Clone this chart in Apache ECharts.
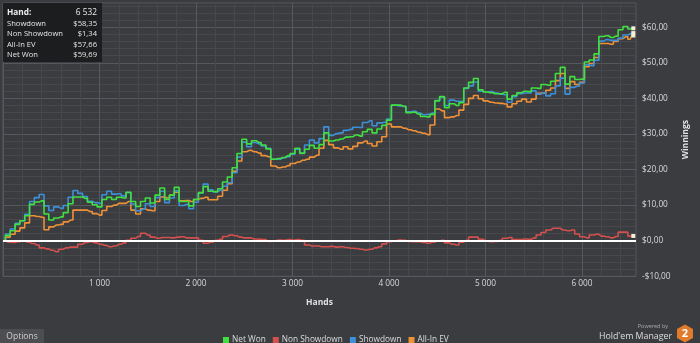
<!DOCTYPE html>
<html><head><meta charset="utf-8">
<script src="https://cdn.jsdelivr.net/npm/echarts@6/dist/echarts.min.js"></script>
<style>html,body{margin:0;padding:0;background:#3a3c40;}#c{width:700px;height:343px;}</style>
</head><body><div id="c"></div>
<script>
const hands = [0,50,100,150,200,250,300,350,400,450,500,550,600,650,700,750,800,850,900,950,
1000,1050,1100,1150,1200,1250,1300,1350,1400,1450,1500,1550,1600,1650,1700,1750,1800,1850,1900,1950,
2000,2050,2100,2150,2200,2250,2300,2350,2400,2450,2500,2550,2600,2650,2700,2750,2800,2850,2900,2950,
3000,3050,3100,3150,3200,3250,3300,3350,3400,3450,3500,3550,3600,3650,3700,3750,3800,3850,3900,3950,
4000,4050,4100,4150,4200,4250,4300,4350,4400,4450,4500,4550,4600,4650,4700,4750,4800,4850,4900,4950,
5000,5050,5100,5150,5200,5250,5300,5350,5400,5450,5500,5550,5600,5650,5700,5750,5800,5850,5900,5950,
6000,6050,6100,6150,6200,6250,6300,6350,6400,6450,6500,6532];

const netWon = [0,1.5,2.8,4.6,5.6,7.0,10.2,10.9,11.2,7.5,
5.8,6.4,6.7,7.9,10.4,12.3,12.3,11.9,10.8,10.1,
9.5,11.6,12.2,11.6,12.2,12.0,13.6,11.0,9.6,11.0,
12.0,10.6,12.8,14.8,11.6,12.8,15.0,11.0,11.0,9.8,
11.6,13.5,15.2,13.9,13.8,14.6,16.5,17.9,20.5,24.5,
28.5,27.2,28.1,27.6,26.9,25.8,22.9,23.1,23.4,23.9,
24.5,26.0,24.6,25.7,26.8,26.0,27.0,30.3,28.0,28.3,
28.6,29.1,29.2,29.7,29.4,30.6,31.3,30.3,31.4,32.4,
33.9,38.1,38.1,37.8,36.0,36.1,35.6,34.9,34.8,35.5,
39.3,40.5,37.4,38.5,38.0,38.8,42.9,44.5,45.6,42.4,
41.8,41.6,41.3,41.3,41.7,39.8,40.8,41.6,42.0,41.9,
42.9,42.8,43.9,43.7,44.8,47.0,48.7,44.0,46.1,45.3,
45.4,50.2,50.8,52.5,57.4,57.6,57.1,57.5,59.3,60.2,
59.5,59.69];

const nonShowdown = [0,-0.4,-0.5,-0.3,0,-0.4,-0.8,-1.2,-2.0,-2.3,
-2.7,-3.1,-2.4,-2.0,-1.8,-1.8,-1.0,-0.5,-0.3,-0.6,
-1.0,-1.3,-1.7,-1.5,-1.0,-0.6,0.1,0.7,1.2,2.1,
1.6,1.0,0.7,0.9,0.9,0.8,1.0,1.1,0.8,0.8,
0.8,0.1,-0.7,-0.4,0.1,0.4,1.2,1.6,1.4,1.0,
0.8,0.8,0.5,0.4,0.3,-0.2,0,0.2,0.1,0.3,
0.2,0.3,0.1,-1.2,-1.5,-1.5,-1.7,-1.7,-1.6,-1.8,
-1.7,-1.9,-2.1,-2.2,-2.4,-2.6,-2.4,-2.0,-1.7,-0.9,
-0.3,0,0.2,0.1,-0.2,-0.3,-0.3,-0.5,-0.7,-0.4,
-0.1,0.1,-0.6,-1.0,-1.2,-0.4,0.1,1.0,1.0,0.4,
0,-0.3,-0.2,0.1,0.7,0.9,0.3,0.3,0.5,0.4,
0.8,1.6,2.3,3.0,3.5,3.5,3.0,2.8,3.0,1.9,
1.1,0.8,1.6,1.8,1.3,1.1,0.8,1.2,2.4,2.4,
1.3,1.34];

const showdown = [0,1.9,3.3,4.9,5.6,7.4,11.0,12.1,13.0,9.8,
8.5,9.5,9.1,9.9,12.2,14.1,13.3,12.4,11.1,10.7,
10.5,12.9,13.9,13.1,13.2,12.6,13.5,10.3,8.4,8.9,
10.4,9.6,12.1,13.9,10.7,12.0,14.0,9.9,10.2,9.0,
10.8,13.4,15.9,14.3,13.7,14.2,15.3,16.3,19.1,23.5,
27.7,26.4,27.6,27.2,26.6,26.0,22.9,22.9,23.3,23.6,
24.3,25.7,24.5,26.9,28.3,27.5,28.7,32.0,29.6,30.1,
30.3,31.0,31.3,31.9,31.8,33.2,33.7,32.3,33.1,33.3,
34.2,38.1,37.9,37.7,36.2,36.4,35.9,35.4,35.5,35.9,
39.4,40.4,38.0,39.5,39.2,39.2,42.8,43.5,44.6,42.0,
41.8,41.9,41.5,41.2,41.0,38.9,40.5,41.3,41.5,41.5,
42.1,41.2,41.6,40.7,41.3,43.5,45.7,41.2,43.1,43.4,
44.3,49.4,49.2,50.7,56.1,56.5,56.3,56.3,56.9,57.8,
58.2,58.35];

const allInEV = [0,1.0,1.8,2.7,3.6,5.0,7.0,6.8,6.6,3.1,
3.9,4.4,4.6,5.3,5.8,8.6,8.6,8.6,8.2,7.6,
7.2,8.5,9.6,10.0,10.5,10.5,11.0,8.6,7.5,9.0,
8.6,8.4,11.0,12.3,12.0,12.8,13.6,11.2,11.3,11.0,
11.6,11.9,12.2,11.5,11.5,12.5,14.2,16.0,19.5,22.4,
25.0,25.4,25.0,24.6,23.9,23.6,21.0,20.5,20.7,21.1,
21.7,22.1,22.6,22.9,23.5,24.0,26.0,28.2,27.0,26.1,
25.7,26.4,25.8,26.5,27.5,28.0,27.3,26.6,27.8,29.2,
32.8,32.0,32.0,31.6,31.2,30.9,30.5,30.2,29.8,32.5,
37.0,36.5,34.6,34.8,35.2,36.7,38.3,40.0,40.8,39.9,
39.3,38.9,38.7,38.6,38.4,37.6,38.5,39.2,39.8,39.0,
39.8,41.4,41.5,42.3,42.9,45.0,47.0,42.8,44.7,43.9,
44.5,48.9,49.8,51.5,55.4,55.4,55.2,56.0,56.8,57.3,
56.6,57.66];

const seriesNames = ['Net Won','Non Showdown','Showdown','All-In EV'];
const seriesColors = ['#3fe03f','#d4504e','#3d8fd8','#ef9136'];
const FONT = '"Open Sans", "Noto Sans", sans-serif';

function money(v){ return (v<0?'-':'') + '$' + Math.abs(v).toFixed(2).replace('.', ','); }
function thou(v){ return String(v).replace(/\B(?=(\d{3})+(?!\d))/g,' '); }

const last = hands.length - 1;
const pairs = arr => hands.map((h,i)=>[h, arr[i]]);

function mkSeries(name, arr, color, z, extra){
  const s = {
    name, type:'line', data: pairs(arr), showSymbol:false, z, step:'middle',
    lineStyle:{color, width:1.6}, itemStyle:{color},
    markPoint:{ silent:true, symbol:'rect', symbolSize:4, animation:false,
      itemStyle:{color:'#f3eed6'}, label:{show:false},
      data:[{coord:[hands[last], arr[last]]}] }
  };
  return Object.assign(s, extra||{});
}

const majorC = '#55585d', minorC = '#46484c';
const chart = echarts.init(document.getElementById('c'));
chart.setOption({
  backgroundColor:'#3a3c40',
  animation:false,
  textStyle:{fontFamily:FONT},
  grid:{left:0, right:64, top:3, bottom:66.7, show:true, borderColor:majorC, borderWidth:1},
  legend:{
    data:seriesNames, left:218, top:331, icon:'rect', itemWidth:6, itemHeight:6, itemGap:7,
    textStyle:{color:'#dcdcdc', fontSize:8.3, fontFamily:FONT, padding:[0,0,0,-2]}
  },
  xAxis:{
    type:'value', min:0, max:6560, interval:200,
    name:'Hands', nameLocation:'middle', nameGap:22,
    nameTextStyle:{color:'#e0e0e0', fontSize:8.5, fontWeight:'bold', fontFamily:FONT},
    axisLine:{show:false}, axisTick:{show:false},
    axisLabel:{color:'#d8d8d8', fontSize:8.3, margin:3, fontFamily:FONT,
      formatter: v => (v>0 && v%1000===0) ? thou(v) : ''},
    splitLine:{show:true, lineStyle:{color:[majorC,minorC,minorC,minorC,minorC], width:1}}
  },
  yAxis:{
    type:'value', position:'right', min:-10, max:66.8, interval:2,
    name:'Winnings', nameLocation:'middle', nameGap:40, nameRotate:90,
    nameTextStyle:{color:'#e0e0e0', fontSize:8.5, fontWeight:'bold', fontFamily:FONT},
    axisLine:{show:false}, axisTick:{show:false},
    axisLabel:{color:'#d8d8d8', fontSize:8.3, margin:6, fontFamily:FONT,
      formatter: v => (Math.abs(Math.round(v) - v) < 1e-6 && Math.round(v)%10===0) ? money(v) : ''},
    splitLine:{show:true, lineStyle:{color:[majorC,minorC,minorC,minorC,minorC], width:1}}
  },
  series:[
    mkSeries('All-In EV', allInEV, seriesColors[3], 2),
    mkSeries('Showdown', showdown, seriesColors[2], 3),
    mkSeries('Non Showdown', nonShowdown, seriesColors[1], 3),
    mkSeries('Net Won', netWon, seriesColors[0], 4, {
      markLine:{silent:true, symbol:'none', animation:false, label:{show:false},
        lineStyle:{color:'#ffffff', width:2, type:'solid'}, data:[{yAxis:0}]}
    })
  ],
  graphic:[
    {type:'rect', shape:{x:3,y:3,width:99,height:59}, style:{fill:'rgba(26,27,29,0.93)'}, z:100},
    {type:'text', x:7, y:12.8, z:101, style:{text:'Hand:', fill:'#ececec', font:'bold 8.3px '+FONT, textVerticalAlign:'middle'}},
    {type:'text', x:97, y:12.8, z:101, style:{text:thou(hands[last]), fill:'#ececec', font:'8.3px '+FONT, textAlign:'right', textVerticalAlign:'middle'}},
    {type:'text', x:7, y:23.8, z:101, style:{text:'Showdown', fill:'#e6e6e6', font:'7.6px '+FONT, textVerticalAlign:'middle'}},
    {type:'text', x:97, y:23.8, z:101, style:{text:money(showdown[last]), fill:'#e6e6e6', font:'7.6px '+FONT, textAlign:'right', textVerticalAlign:'middle'}},
    {type:'text', x:7, y:34.2, z:101, style:{text:'Non Showdown', fill:'#e6e6e6', font:'7.6px '+FONT, textVerticalAlign:'middle'}},
    {type:'text', x:97, y:34.2, z:101, style:{text:money(nonShowdown[last]), fill:'#e6e6e6', font:'7.6px '+FONT, textAlign:'right', textVerticalAlign:'middle'}},
    {type:'text', x:7, y:44.4, z:101, style:{text:'All-In EV', fill:'#e6e6e6', font:'7.6px '+FONT, textVerticalAlign:'middle'}},
    {type:'text', x:97, y:44.4, z:101, style:{text:money(allInEV[last]), fill:'#e6e6e6', font:'7.6px '+FONT, textAlign:'right', textVerticalAlign:'middle'}},
    {type:'text', x:7, y:54.5, z:101, style:{text:'Net Won', fill:'#e6e6e6', font:'7.6px '+FONT, textVerticalAlign:'middle'}},
    {type:'text', x:97, y:54.5, z:101, style:{text:money(netWon[last]), fill:'#e6e6e6', font:'7.6px '+FONT, textAlign:'right', textVerticalAlign:'middle'}},
    {type:'rect', shape:{x:0,y:329,width:44,height:14}, style:{fill:'#4c4e52'}, z:100},
    {type:'text', x:22, y:337, z:101, style:{text:'Options', fill:'#cfcfcf', font:'8.5px '+FONT, textAlign:'center', textVerticalAlign:'middle'}},
    {type:'text', x:668, y:326, z:101, style:{text:'Powered by', fill:'#aaaaaa', font:'5.5px '+FONT, textAlign:'right', textVerticalAlign:'middle'}},
    {type:'text', x:672, y:336.5, z:101, style:{text:"Hold'em Manager", fill:'#dedede', font:'8.8px '+FONT, textAlign:'right', textVerticalAlign:'middle'}},
    {type:'polygon', z:101, shape:{points:[[685,324.5],[693,329],[693,338],[685,342.5],[677,338],[677,329]]}, style:{fill:'#e27a2c'}},
    {type:'text', x:685, y:334, z:102, style:{text:'2', fill:'#ffffff', font:'bold 11px '+FONT, textAlign:'center', textVerticalAlign:'middle'}}
  ]
});
</script>
</body></html>
